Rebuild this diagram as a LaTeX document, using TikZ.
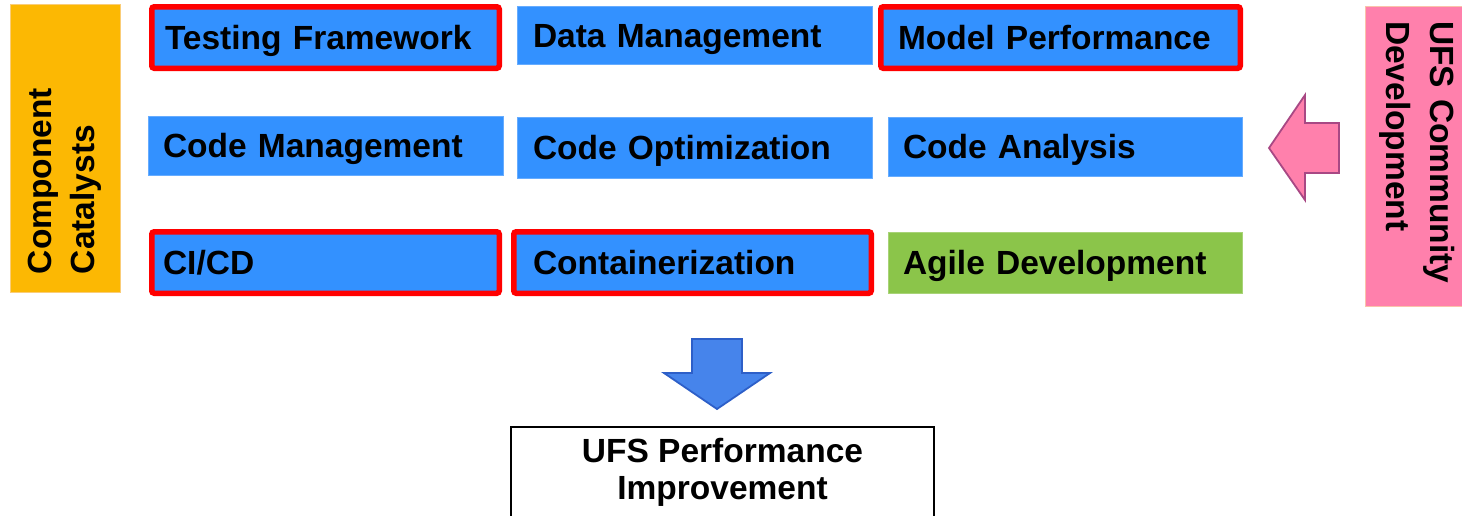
\documentclass[tikz,border=0pt]{standalone}
\usepackage{fontspec}
\newfontfamily\labfont{Liberation Sans}
\definecolor{cblue}{RGB}{51,145,255}
\definecolor{cred}{RGB}{255,0,0}
\definecolor{cgreen}{RGB}{139,197,74}
\definecolor{corange}{RGB}{252,184,3}
\definecolor{corangeedge}{RGB}{250,205,120}
\definecolor{cpink}{RGB}{255,128,172}
\definecolor{cpinkedge}{RGB}{250,195,170}
\definecolor{cpinkarrow}{RGB}{168,72,132}
\definecolor{cdownfill}{RGB}{70,132,235}
\definecolor{cdownedge}{RGB}{45,95,200}
\begin{document}
\begin{tikzpicture}[x=1pt,y=-1pt,
  lab/.style={font=\labfont\bfseries\fontsize{33.5}{43}\selectfont},
  cbox/.style={lab, fill=cblue, draw=cblue!75!white, line width=0.8pt, align=left,
    inner ysep=0pt, text height=24pt, text depth=0pt},
  redbox/.style={cbox, draw=cred, line width=5.5pt, rounded corners=2.5pt},
  greenbox/.style={cbox, fill=cgreen, draw=cgreen!75!white},
  blockarrow/.style={line width=1.8pt, line join=miter}
]
\useasboundingbox (0,0) rectangle (1462,515);
\clip (0,0) rectangle (1462,515);

% side bars
\node[lab, rotate=90, fill=corange, draw=corangeedge, line width=1pt,
  minimum height=110pt, text width=252pt, inner xsep=18pt, inner ysep=0pt,
  align=left] (cat) at (65,148) {Component\\Catalysts};
\node[lab, rotate=-90, fill=cpink, draw=cpinkedge, line width=1pt,
  minimum height=105pt, text width=270pt, inner xsep=15pt, inner ysep=0pt,
  align=left, font=\labfont\bfseries\fontsize{33.5}{44}\selectfont]
  (ufs) at (1417.5,156) {UFS~Community\\Development};

% row 1
\node[redbox, text width=321pt, inner xsep=13.25pt, minimum height=61.5pt] (tf) at (325.5,37.5) {Testing~Framework};
\node[cbox, text width=323pt, inner xsep=16pt, minimum height=58pt] (dm) at (694.5,35) {Data~Management};
\node[redbox, text width=325pt, inner xsep=17.25pt, minimum height=61.5pt] (mp) at (1060.5,37.5) {Model~Performance};
% row 2
\node[cbox, text width=325pt, inner xsep=15pt, minimum height=59pt] (cm) at (325.5,145.5) {Code~Management};
\node[cbox, text width=323pt, inner xsep=16pt, minimum height=61pt] (co) at (694.5,147.5) {Code~Optimization};
\node[cbox, text width=324pt, inner xsep=15pt, minimum height=59pt] (ca) at (1065,146.5) {Code~Analysis};
% row 3
\node[redbox, text width=325pt, inner xsep=11.25pt, minimum height=61.5pt] (ci) at (325.5,262.5) {CI/CD};
\node[redbox, text width=319pt, inner xsep=19.25pt, minimum height=61.5pt] (ct) at (692.5,262.5) {Containerization};
\node[greenbox, text width=324pt, inner xsep=15pt, minimum height=61pt] (ag) at (1065,262.5) {Agile~Development};

% result box
\node[lab, draw=black, line width=2pt, minimum width=423pt, minimum height=91pt,
  align=center, inner sep=0pt, font=\labfont\bfseries\fontsize{33.5}{37}\selectfont]
  (perf) at (722.5,472.5) {UFS Performance\\Improvement};

% block arrows
\draw[blockarrow, fill=cpink, draw=cpinkarrow]
  (1269,148) -- (1305,95) -- (1305,123) -- (1339,123) -- (1339,173)
  -- (1305,173) -- (1305,200) -- cycle;
\draw[blockarrow, fill=cdownfill, draw=cdownedge]
  (692,339) -- (742,339) -- (742,373) -- (770,373) -- (717,409)
  -- (664,373) -- (692,373) -- cycle;
\end{tikzpicture}
\end{document}
